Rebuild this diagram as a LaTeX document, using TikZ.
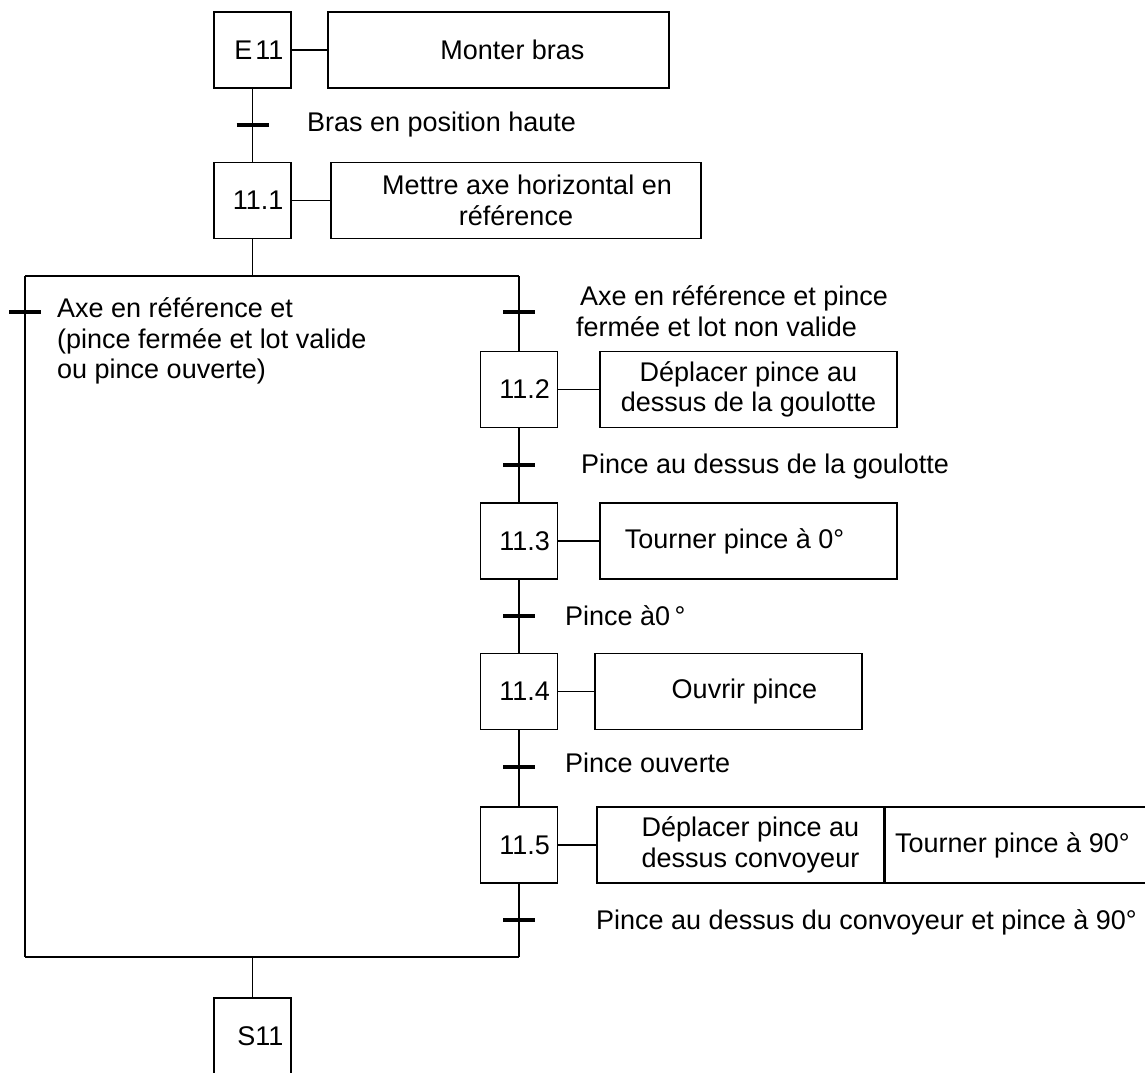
\documentclass[tikz,border=0pt]{standalone}
\usepackage{fontspec}
\setmainfont{Liberation Sans}
\begin{document}
\begin{tikzpicture}[x=1pt,y=-1pt,
  every node/.style={font=\fontsize{27}{30.5}\selectfont},
  stepbox/.style={draw, line width=1.4pt, minimum width=77pt, minimum height=76pt, inner sep=0pt, text width=62pt, align=right},
  actbox/.style={draw, line width=1.4pt, minimum height=76pt, inner sep=0pt, align=center},
  link/.style={line width=1.4pt},
  bar/.style={line width=3.5pt},
  lbl/.style={anchor=west, inner sep=0pt, align=left}
]
\clip (0,0) rectangle (1145,1072);
\fill[white] (0,0) rectangle (1145,1072);

% steps
\node[stepbox] (E11) at (252.5,50) {E\hspace{3pt}11};
\node[stepbox] (s111) at (252.5,200.5) {11.1};
\node[stepbox] (s112) at (519,389.5) {11.2};
\node[stepbox] (s113) at (519,541) {11.3};
\node[stepbox] (s114) at (519,691.5) {11.4};
\node[stepbox] (s115) at (519,845) {11.5};
\node[stepbox] (S11) at (252.5,1036) {S11};

% actions
\node[actbox, minimum width=341pt] (a0) at (498.5,50) {\hspace*{28pt}Monter bras};
\node[actbox, minimum width=370pt] (a1) at (516,200.5) {\hspace*{22pt}Mettre axe horizontal en\\ référence};
\node[actbox, minimum width=297pt] (a2) at (748.5,389.5) {Déplacer pince au\\ dessus de la goulotte};
\node[actbox, minimum width=297pt] (a3) at (748.5,541) {Tourner pince à 0°\hspace*{28pt}};
\node[actbox, minimum width=267pt] (a4) at (728.5,691.5) {\hspace*{32pt}Ouvrir pince};
\node[actbox, minimum width=287pt] (a5) at (740.5,845) {\hspace*{20pt}Déplacer pince au\\ \hspace*{20pt}dessus convoyeur};
\node[actbox, minimum width=264pt, anchor=west] (a6) at (a5.east) {\hspace*{-10pt}Tourner pince à 90°};

\draw[link] (E11) -- (a0);
\draw[link] (s111) -- (a1);
\draw[link] (s112) -- (a2);
\draw[link] (s113) -- (a3);
\draw[link] (s114) -- (a4);
\draw[link] (s115) -- (a5);

% coordinates
\coordinate (t1) at (252.5,125);
\coordinate (dtop) at (252.5,276);
\coordinate (dl) at (25,276);
\coordinate (dr) at (519,276);
\coordinate (tl) at (25,312);
\coordinate (tr) at (519,312);
\coordinate (t2) at (519,465);
\coordinate (t3) at (519,616);
\coordinate (t4) at (519,767);
\coordinate (t5) at (519,920);
\coordinate (cl) at (25,957);
\coordinate (cr) at (519,957);
\coordinate (cmid) at (252.5,957);

% main line
\draw[link] (E11) -- (s111);
\draw[link] (s111) -- (dtop);
\draw[link] (dl) -- (dr);
\draw[link] (dl) -- (cl);
\draw[link] (dr) -- (s112);
\draw[link] (s112) -- (s113);
\draw[link] (s113) -- (s114);
\draw[link] (s114) -- (s115);
\draw[link] (s115) -- (cr);
\draw[line width=2.2pt] (cl) -- (cr);
\draw[link] (cmid) -- (S11);

% transition bars
\foreach \t in {t1,tl,tr,t2,t3,t4,t5}{
  \draw[bar] ([xshift=-16pt]\t) -- ([xshift=16pt]\t);
}

% transition labels
\node[lbl] (r1) at (307,125) {Bras en position haute};
\node[lbl] (rl) at (57,341) {Axe en référence et\\(pince fermée et lot valide\\ou pince ouverte)};
\node[lbl] (rr) at (576,311) {\hspace*{4pt}Axe en référence et pince\\fermée et lot non valide};
\node[lbl] (r2) at (581,467) {Pince au dessus de la goulotte};
\node[lbl] (r3) at (565,616) {Pince à0\,°};
\node[lbl] (r4) at (565,763) {Pince ouverte};
\node[lbl] (r5) at (596,922) {Pince au dessus du convoyeur et pince à 90°};
\end{tikzpicture}
\end{document}
